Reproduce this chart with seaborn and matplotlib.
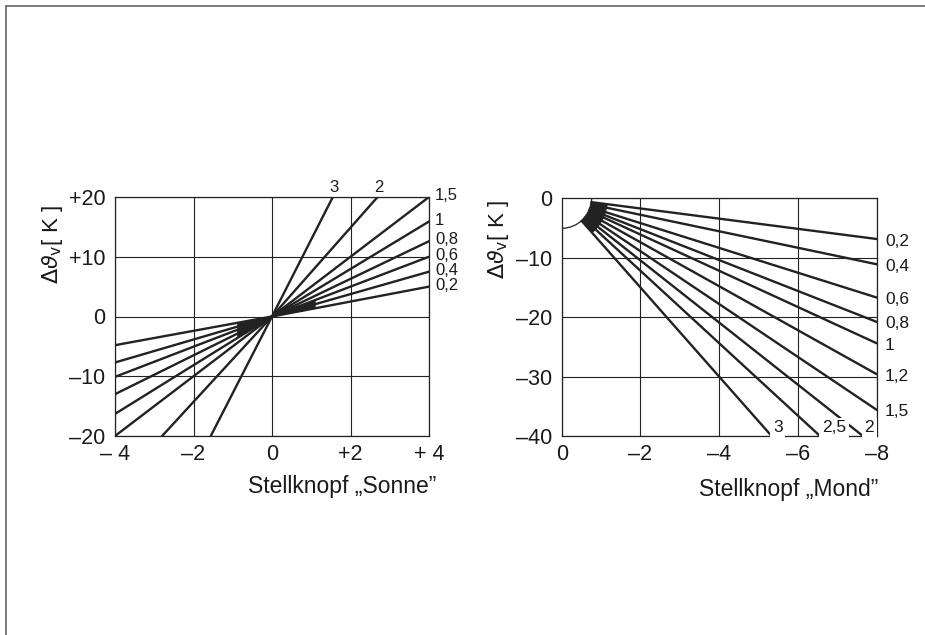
import numpy as np
import pandas as pd
import matplotlib
matplotlib.use("Agg")
import matplotlib.pyplot as plt
from matplotlib.patches import Ellipse, Polygon
from matplotlib.lines import Line2D
import seaborn as sns

# --- Stellknopf "Sonne": lines through the origin, read at both ends
sonne_labels = ["0,2", "0,4", "0,6", "0,8", "1", "1,5", "2", "3"]
sonne_x_pos = [4, 4, 4, 4, 4, 4, 2.69, 1.55]
sonne_y_pos = [5.0, 7.5, 10.0, 12.6, 15.9, 20, 20, 20]
sonne_x_neg = [-4, -4, -4, -4, -4, -4, -2.8, -1.56]
sonne_y_neg = [-4.8, -7.7, -10.1, -13.0, -16.3, -20, -20, -20]

sonne_xticks = [-4, -2, 0, 2, 4]
sonne_xticklabels = ["\u2013 4", "\u20132", "0", "+2", "+ 4"]
sonne_yticks = [-20, -10, 0, 10, 20]
sonne_yticklabels = ["\u201320", "\u201310", "0", "+10", "+20"]

# --- Stellknopf "Mond": lines starting on the quarter circle, read at the far end
mond_labels = ["0,2", "0,4", "0,6", "0,8", "1", "1,2", "1,5", "2", "2,5", "3"]
mond_x_end = [-8, -8, -8, -8, -8, -8, -8, -7.65, -6.56, -5.33]
mond_y_end = [-6.85, -11.1, -16.7, -20.8, -24.4, -29.6, -35.6, -40, -40, -40]
mond_arc_x = 0.76
mond_arc_y = 5.05

mond_xticks = [0, -2, -4, -6, -8]
mond_xticklabels = ["0", "\u20132", "\u20134", "\u20136", "\u20138"]
mond_yticks = [0, -10, -20, -30, -40]
mond_yticklabels = ["0", "\u201310", "\u201320", "\u201330", "\u201340"]

ink = "#222222"
txt = "#1a1a1a"

sns.set_theme(style="white")
plt.rcParams["font.family"] = ["Liberation Sans", "DejaVu Sans"]
plt.rcParams["mathtext.fontset"] = "dejavusans"

fig = plt.figure(figsize=(9.25, 6.35), dpi=100)
fig.patch.set_facecolor("white")
ax1 = fig.add_axes([115 / 925, 1 - 436 / 635, 314 / 925, 239 / 635])
ax2 = fig.add_axes([561.7 / 925, 1 - 436 / 635, 315 / 925, 237.7 / 635])

# frame of the scanned page
fig.add_artist(Line2D([6 / 925, 1], [1 - 6 / 635, 1 - 6 / 635], color="#666666", lw=1.2,
                      transform=fig.transFigure))
fig.add_artist(Line2D([6 / 925, 6 / 925], [0, 1 - 6 / 635], color="#666666", lw=1.2,
                      transform=fig.transFigure))


def style_axes(ax, xt, xtl, yt, ytl):
    ax.set_xticks(xt)
    ax.set_xticklabels(xtl)
    ax.set_yticks(yt)
    ax.set_yticklabels(ytl)
    ax.tick_params(length=0, labelsize=15.5, colors=txt)
    ax.tick_params(axis="x", pad=6)
    ax.tick_params(axis="y", pad=7)
    ax.grid(True, color=ink, lw=0.8)
    ax.set_axisbelow(True)
    for s in ax.spines.values():
        s.set_color(ink)
        s.set_linewidth(0.9)
    ax.set_xlabel("")
    ax.set_ylabel("")


# ---------------- left panel
rows = []
for lab, xn, yn, xp, yp in zip(sonne_labels, sonne_x_neg, sonne_y_neg, sonne_x_pos, sonne_y_pos):
    rows += [(lab, 0, xn, yn), (lab, 1, 0.0, 0.0), (lab, 2, xp, yp)]
sonne = pd.DataFrame(rows, columns=["label", "order", "x", "y"])
sns.lineplot(data=sonne, x="x", y="y", hue="label", units="label", estimator=None, sort=False,
             palette=[ink] * len(sonne_labels), lw=1.7, legend=False, ax=ax1)

slope = {lab: yp / xp for lab, xp, yp in zip(sonne_labels, sonne_x_pos, sonne_y_pos)}
slope_n = {lab: yn / xn for lab, xn, yn in zip(sonne_labels, sonne_x_neg, sonne_y_neg)}
xw = np.linspace(0, 1.1, 20)
ax1.fill_between(xw, slope["0,2"] * xw, slope["0,6"] * xw, color=ink, lw=0)
xw = np.linspace(-0.9, 0, 20)
ax1.fill_between(xw, slope_n["0,2"] * xw, slope_n["1"] * xw, color=ink, lw=0)

ax1.set_xlim(-4, 4)
ax1.set_ylim(-20, 20)
style_axes(ax1, sonne_xticks, sonne_xticklabels, sonne_yticks, sonne_yticklabels)

for lab, xp, yp in zip(sonne_labels, sonne_x_pos, sonne_y_pos):
    if xp >= 4:
        ax1.annotate(lab, (xp, yp), xytext=(4.5, 1), textcoords="offset points",
                     ha="left", va="center", fontsize=12, color=txt)
    else:
        ax1.annotate(lab, (xp, yp), xytext=(1, 1.5), textcoords="offset points",
                     ha="center", va="bottom", fontsize=12, color=txt)

ax1.text(1.025, -0.213, "Stellknopf \u201eSonne\u201d", transform=ax1.transAxes,
         ha="right", va="center", fontsize=16.5, color=txt)
ax1.text(-0.20, 0.80, r"$\Delta\vartheta_\mathrm{v}$[ K ]", transform=ax1.transAxes,
         ha="center", va="center", rotation=90, fontsize=16, color=txt)

# ---------------- right panel
xe = np.array(mond_x_end)
ye = np.array(mond_y_end)
t = 1 / np.sqrt((xe / mond_arc_x) ** 2 + (ye / mond_arc_y) ** 2)
xs, ys = xe * t, ye * t
rows = []
for lab, a, b, c, d in zip(mond_labels, xs, ys, xe, ye):
    rows += [(lab, 0, a, b), (lab, 1, c, d)]
mond = pd.DataFrame(rows, columns=["label", "order", "x", "y"])
sns.lineplot(data=mond, x="x", y="y", hue="label", units="label", estimator=None, sort=False,
             palette=[ink] * len(mond_labels), lw=1.7, legend=False, ax=ax2)

wedge = list(zip(xs, ys)) + list(zip(xs[::-1] * 1.55, ys[::-1] * 1.55))
ax2.add_patch(Polygon(wedge, closed=True, color=ink, lw=0, zorder=2))
ax2.add_patch(Ellipse((0, 0), 2 * mond_arc_x, 2 * mond_arc_y, facecolor="white",
                      edgecolor=ink, lw=0.9, zorder=1.5))

ax2.set_xlim(0, -8)
ax2.set_ylim(-40, 0)
style_axes(ax2, mond_xticks, mond_xticklabels, mond_yticks, mond_yticklabels)

bottom_offsets = {"2": 4.5, "2,5": 10, "3": 4.5}
for lab, x1, y1 in zip(mond_labels, mond_x_end, mond_y_end):
    if x1 <= -8:
        ax2.annotate(lab, (x1, y1), xytext=(6, -1.5), textcoords="offset points",
                     ha="left", va="center", fontsize=12.5, color=txt)
    else:
        ax2.annotate(lab, (x1, y1), xytext=(bottom_offsets[lab], 6), textcoords="offset points",
                     ha="center", va="center", fontsize=12.5, color=txt, zorder=5,
                     bbox=dict(boxstyle="square,pad=0.15", fc="white", ec="none"))

ax2.text(1.004, -0.227, "Stellknopf \u201eMond\u201d", transform=ax2.transAxes,
         ha="right", va="center", fontsize=16.5, color=txt)
ax2.text(-0.201, 0.825, r"$\Delta\vartheta_\mathrm{v}$[ K ]", transform=ax2.transAxes,
         ha="center", va="center", rotation=90, fontsize=16, color=txt)

fig.savefig("out.png", dpi=100, facecolor="white")
